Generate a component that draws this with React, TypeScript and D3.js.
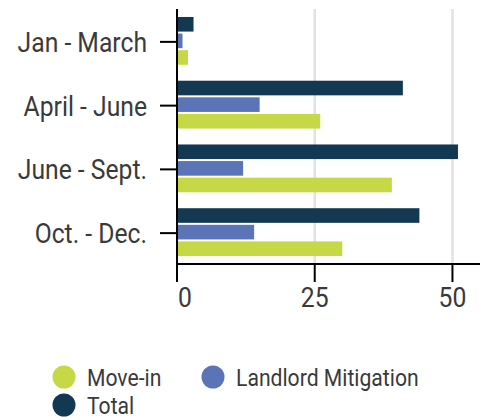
import React from "react";
import * as d3 from "d3";

const categories = ["Jan - March", "April - June", "June - Sept.", "Oct. - Dec."];
const seriesNames = ["Total", "Landlord Mitigation", "Move-in"];
const totalValues = [3, 41, 51, 44];
const landlordValues = [1, 15, 12, 14];
const moveInValues = [2, 26, 39, 30];
const xTicks = [0, 25, 50];
const legendOrder = ["Move-in", "Landlord Mitigation", "Total"];

const colors: Record<string, string> = {
  Total: "#133852",
  "Landlord Mitigation": "#5a74b7",
  "Move-in": "#c6d846",
};

const W = 489;
const H = 420;
const FONT = "Roboto, sans-serif";
const TEXT = "#3a3a3a";
const SX_AXIS = 0.915;
const SX_LEG = 0.9;

export default function App() {
  const x = d3.scaleLinear().domain([0, 55]).range([177, 480]);
  const y = d3.scaleBand<string>().domain(categories).range([9, 264]).paddingInner(0.25).paddingOuter(0.125);
  const inner = d3.scaleBand<string>().domain(seriesNames).range([0, y.bandwidth()]).paddingInner(0.12);
  const valuesBySeries: Record<string, number[]> = {
    Total: totalValues,
    "Landlord Mitigation": landlordValues,
    "Move-in": moveInValues,
  };
  const yTop = 9;
  const yBot = 264;

  return (
    <svg width={W} height={H} style={{ position: "absolute", left: 0, top: 0, background: "#fff" }}>
      {xTicks.filter((t) => t > 0).map((t) => (
        <line key={"g" + t} x1={x(t)} x2={x(t)} y1={yTop} y2={yBot} stroke="#e2e2e2" strokeWidth={2.5} />
      ))}
      {categories.map((c, i) =>
        seriesNames.map((s) => (
          <rect
            key={c + s}
            x={x(0) + 1}
            y={(y(c) as number) + (inner(s) as number)}
            width={x(valuesBySeries[s][i]) - x(0) - 1}
            height={inner.bandwidth()}
            fill={colors[s]}
          />
        ))
      )}
      {/* y axis */}
      <line x1={x(0)} x2={x(0)} y1={yTop} y2={yBot + 18} stroke="#000" strokeWidth={2} />
      {categories.map((c) => {
        const cy = (y(c) as number) + y.bandwidth() / 2 + 1;
        return (
          <g key={"yl" + c}>
            <line x1={160} x2={x(0)} y1={cy} y2={cy} stroke="#000" strokeWidth={2} />
            <text
              transform={`translate(147,${cy + 10}) scale(${SX_AXIS},1)`}
              textAnchor="end"
              fontFamily={FONT}
              fontSize={27}
              fill={TEXT}
            >
              {c}
            </text>
          </g>
        );
      })}
      {/* x axis */}
      <line x1={x(0) - 1} x2={480} y1={yBot} y2={yBot} stroke="#000" strokeWidth={2} />
      {xTicks.map((t, i) => (
        <g key={"xt" + t}>
          <line x1={x(t)} x2={x(t)} y1={yBot} y2={yBot + 18} stroke="#000" strokeWidth={2} />
          <text
            transform={`translate(${i === 0 ? x(t) + 1 : x(t)},307) scale(${SX_AXIS},1)`}
            textAnchor={i === 0 ? "start" : "middle"}
            fontFamily={FONT}
            fontSize={27}
            fill={TEXT}
          >
            {t}
          </text>
        </g>
      ))}
      {/* legend */}
      {legendOrder.map((s, i) => {
        const col = i % 2;
        const row = Math.floor(i / 2);
        const cx = col === 0 ? 64 : 213;
        const cy = 377 + row * 28;
        return (
          <g key={"lg" + s}>
            <circle cx={cx} cy={cy} r={11.5} fill={colors[s]} />
            <text
              transform={`translate(${cx + 23},${cy + 9}) scale(${SX_LEG},1)`}
              fontFamily={FONT}
              fontSize={23.5}
              fill={TEXT}
            >
              {s}
            </text>
          </g>
        );
      })}
    </svg>
  );
}
